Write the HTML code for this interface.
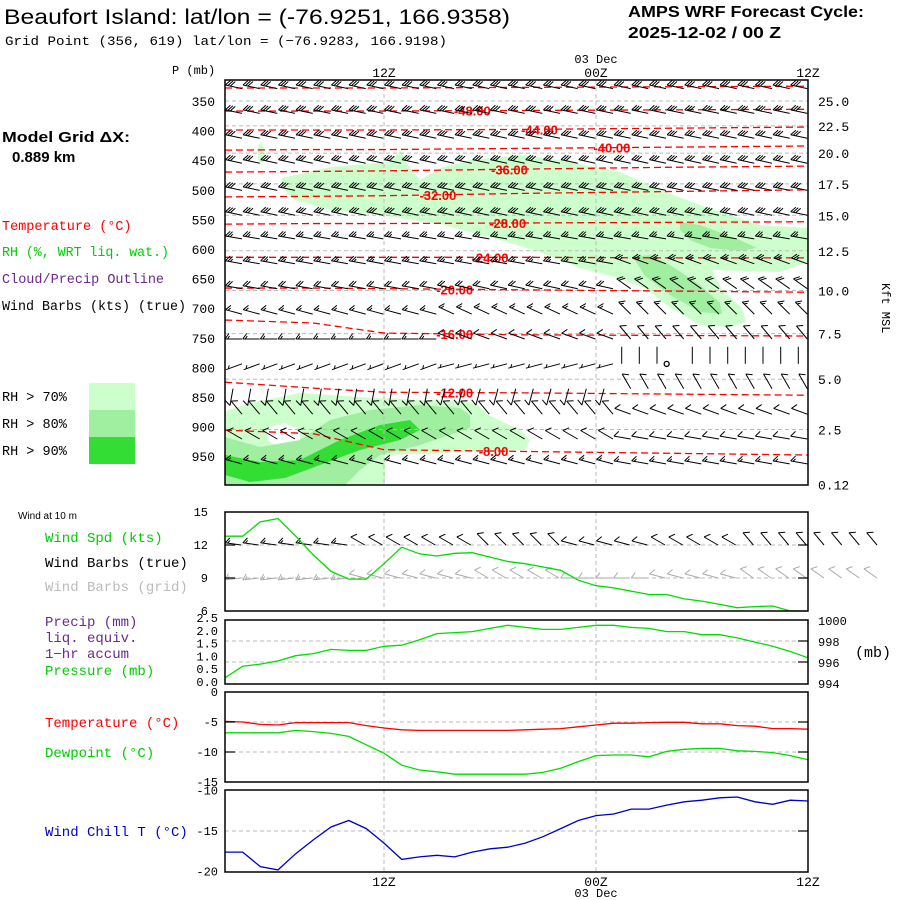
<!DOCTYPE html>
<html><head><meta charset="utf-8"><style>
html,body{margin:0;padding:0;background:#fff;}
svg{display:block;}
.m{font-family:"Liberation Mono",monospace;}
.s{font-family:"Liberation Sans",sans-serif;}
</style></head><body>
<svg id="chart" xmlns="http://www.w3.org/2000/svg" width="900" height="900" viewBox="0 0 900 900">
<rect width="900" height="900" fill="#fff"/>
<text class="s" x="4" y="24" font-size="21" textLength="506" lengthAdjust="spacingAndGlyphs">Beaufort Island:  lat/lon = (-76.9251, 166.9358)</text>
<text class="m" x="5" y="45" font-size="13" textLength="442" lengthAdjust="spacingAndGlyphs">Grid Point (356, 619) lat/lon = (−76.9283, 166.9198)</text>
<text class="s" x="628" y="17" font-size="16" font-weight="bold" textLength="236" lengthAdjust="spacingAndGlyphs">AMPS WRF Forecast Cycle:</text>
<text class="s" x="628" y="38" font-size="16" font-weight="bold" textLength="153" lengthAdjust="spacingAndGlyphs">2025-12-02 / 00  Z</text>
<text class="m" x="172" y="74" font-size="12">P (mb)</text>
<text class="s" x="2" y="142" font-size="15" font-weight="bold" textLength="128" lengthAdjust="spacingAndGlyphs">Model Grid ΔX:</text>
<text class="s" x="12" y="162" font-size="15" font-weight="bold">0.889 km</text>
<text class="m" x="2" y="230" font-size="13.5" fill="#ff0000">Temperature (°C)</text>
<text class="m" x="2" y="256" font-size="13.5" fill="#00cc00" textLength="167" lengthAdjust="spacingAndGlyphs">RH (%, WRT liq. wat.)</text>
<text class="m" x="2" y="283" font-size="13.5" fill="#6a2a8a">Cloud/Precip Outline</text>
<text class="m" x="2" y="310" font-size="13.5" fill="#000" textLength="184" lengthAdjust="spacingAndGlyphs">Wind Barbs (kts) (true)</text>
<g>
<rect x="89" y="383" width="46" height="27" fill="#ccffcc"/><rect x="89" y="410" width="46" height="27" fill="#a0eea0"/><rect x="89" y="437" width="46" height="27" fill="#33dd33"/>
<text class="m" x="2" y="401" font-size="13.5">RH &gt; 70%</text>
<text class="m" x="2" y="428" font-size="13.5">RH &gt; 80%</text>
<text class="m" x="2" y="455" font-size="13.5">RH &gt; 90%</text>
</g>
<text class="s" x="18" y="519" font-size="10">Wind at 10 m</text>
<text class="m" x="45" y="542" font-size="14" fill="#00cc00">Wind Spd (kts)</text>
<text class="m" x="45" y="567" font-size="14">Wind Barbs (true)</text>
<text class="m" x="45" y="591" font-size="14" fill="#bbbbbb">Wind Barbs (grid)</text>
<text class="m" x="45" y="626" font-size="14" fill="#6a2a8a">Precip (mm)</text>
<text class="m" x="45" y="642" font-size="14" fill="#6a2a8a">liq. equiv.</text>
<text class="m" x="45" y="658" font-size="14" fill="#6a2a8a">1−hr accum</text>
<text class="m" x="45" y="675" font-size="14" fill="#00cc00">Pressure (mb)</text>
<text class="m" x="45" y="727" font-size="14" fill="#ff0000">Temperature (°C)</text>
<text class="m" x="45" y="757" font-size="14" fill="#00cc00">Dewpoint (°C)</text>
<text class="m" x="45" y="836" font-size="14" fill="#0000cc">Wind Chill T (°C)</text>
<text class="m" x="855" y="657" font-size="15">(mb)</text>
<text class="m" font-size="12" transform="translate(882,283) rotate(90)">Kft MSL</text>
<g id="plot"></g>
</svg>
<script>
// ---- data ----
var hours = [3,4,5,6,7,8,9,10,11,12,13,14,15,16,17,18,19,20,21,22,23,24,25,26,27,28,29,30,31,32,33,34,35,36];
var windSpd = [12.8,12.8,14.1,14.4,12.8,11.1,9.6,8.9,8.9,10.3,11.8,11.2,11.0,11.25,11.3,10.9,10.5,10.3,10.0,9.7,8.8,8.3,8.1,7.8,7.5,7.5,7.1,6.9,6.6,6.3,6.4,6.45,6.0,6.0];
var pressure = [994.5,995.6,995.8,996.1,996.6,996.8,997.2,997.1,997.1,997.5,997.6,998.1,998.7,998.8,998.9,999.2,999.5,999.3,999.1,999.1,999.3,999.5,999.5,999.3,999.2,998.9,998.9,998.6,998.6,998.3,997.9,997.5,997.0,996.4];
var tempC = [-4.9,-5.0,-5.4,-5.5,-5.1,-5.1,-5.1,-5.1,-5.6,-6.0,-6.3,-6.4,-6.4,-6.4,-6.4,-6.4,-6.4,-6.3,-6.2,-6.1,-5.8,-5.5,-5.2,-5.2,-5.1,-5.05,-5.05,-5.3,-5.3,-5.6,-5.7,-6.1,-6.1,-6.2];
var dewC = [-6.8,-6.8,-6.8,-6.8,-6.4,-6.6,-6.9,-7.4,-8.8,-10.2,-12.2,-13.0,-13.3,-13.7,-13.7,-13.7,-13.7,-13.7,-13.4,-12.7,-11.6,-10.6,-10.5,-10.5,-10.8,-9.9,-9.55,-9.4,-9.4,-9.8,-9.9,-10.1,-10.6,-11.3];
var windChill = [-17.6,-17.6,-19.4,-19.8,-17.8,-16.1,-14.5,-13.7,-14.7,-16.5,-18.5,-18.2,-18.0,-18.2,-17.6,-17.2,-17.0,-16.5,-15.7,-14.7,-13.7,-13.1,-12.9,-12.3,-12.3,-11.8,-11.4,-11.2,-10.9,-10.8,-11.4,-11.7,-11.2,-11.3];
var pLevels = [350,400,450,500,550,600,650,700,750,800,850,900,950];
var kftLabels = ["25.0","22.5","20.0","17.5","15.0","12.5","10.0","7.5","5.0","2.5","0.12"];
var kftP = [350,392,438,490,543,603,670,743,820,905,998];
var isoTemps = [-52,-48,-44,-40,-36,-32,-28,-24,-20,-16,-12,-8];
var isoHours = [3,8,12,20,28,36];
var isoP = [[328,328,328,327,326,325],[367,367,367,366,365,364],[399,399,399,398,396,394],[433,432,432,430,428,426],[470,469,468,465,462,460],[512,511,510,506,503,500],[558,557,557,556,555,554],[614,614,614,614,615,615],[666,666,667,669,671,673],[720,725,742,745,746,747],[825,835,842,843,845,847],[906,912,939,942,945,948]];
var isoLabelHour = [null,17,20.8,24.9,19.1,15.05,19,18,16,16,16,18.2];
var barbRowP = [329,371,413,455,501,543,583,625,667,710,752,794,836,879,921,963];
var barbDirA = [282,282,282,282,282,282,280,280,280,285,270,250,190,320,300,285];
var barbDirB = [282,282,282,282,282,282,280,280,282,295,290,255,195,320,300,285];
var barbDirC = [282,282,282,282,282,282,280,290,305,315,320,0,330,290,280,280];
var barbSpdA = [30,30,30,30,30,30,25,25,20,15,15,5,10,10,10,15];
var barbSpdB = [30,30,30,30,30,30,25,25,20,15,10,5,10,10,10,15];
var barbSpdC = [30,30,30,30,30,30,25,25,20,15,10,0,10,10,10,15];
var dir10 = [278,278,278,278,278,278,278,300,300,300,300,300,300,300,315,315,315,315,315,285,285,285,285,285,300,300,300,300,300,320,320,320,320,320,320,320,320];
var spd10 = [15,15,15,15,15,15,15,10,10,10,10,10,10,10,10,10,10,10,10,10,10,10,10,10,10,10,10,10,10,10,10,10,10,10,10,10,10];

// ---- axes ----
var NS = "http://www.w3.org/2000/svg";
var X0 = 225, X1 = 808;
function xT(h){ return X0 + (h-3)*(X1-X0)/33; }
function yP(p){ return 101 + (p-350)*0.592; }
function yWind(v){ return 512 + (15-v)*11; }
function yPres(v){ return 620 + (1000-v)*10.5; }
function yTemp(v){ return 692 + (-v)*6; }
function yWC(v){ return 790.5 + (-10-v)*8.1; }
var plot = document.getElementById('plot');
function el(tag, attrs, parent){ var e=document.createElementNS(NS,tag); for(var k in attrs) e.setAttribute(k,attrs[k]); (parent||plot).appendChild(e); return e; }
function txt(s, x, y, size, anchor, fill, cls, parent){ var t=el('text',{x:x,y:y,'font-size':size,'text-anchor':anchor||'start',fill:fill||'#000','class':cls||'m'},parent); t.textContent=s; return t; }

// ---- top panel shading (RH contour fills) ----
var gShade = el('g',{});


var light='#ccffcc', med='#a0eea0', dark='#33dd33';
el('polygon',{points:"282,178 330,167 390,162 400,150 408,165 420,180 440,168 470,160 520,155 560,160 620,172 660,190 700,205 760,225 808,228 808,262 780,272 712,270 722,290 742,308 746,322 730,327 700,325 668,306 645,288 615,277 580,268 540,252 500,240 440,224 380,215 330,210 295,200 282,188",fill:light},gShade);
el('polygon',{points:"257,148 261,142 265,150 264,162 259,163",fill:light},gShade);
el('polygon',{points:"680,222 700,225 740,240 757,248 740,251 710,248 690,240 680,230",fill:med},gShade);
el('polygon',{points:"633,257 650,255 670,265 700,285 720,303 722,314 700,312 670,295 645,276",fill:med},gShade);
el('polygon',{points:"225,411 255,402 300,393 360,397 420,400 465,401 478,405 488,415 520,430 530,440 525,450 480,451 440,453 385,455 385,485 225,485",fill:light},gShade);
el('polygon',{points:"267,428 285,423 300,430 300,446 280,448 267,440",fill:'#fff'},gShade);
el('polygon',{points:"225,437 260,447 300,440 330,420 370,410 420,405 460,408 470,415 470,428 420,445 380,455 360,470 345,485 225,485",fill:med},gShade);
el('polygon',{points:"225,455 260,462 300,460 340,440 380,425 410,420 420,430 400,440 360,450 320,465 285,478 250,482 225,475",fill:dark},gShade);

// ---- gridlines ----
var gGrid = el('g',{stroke:'#bbbbbb','stroke-width':1,'stroke-dasharray':'4,3',fill:'none'});


kftP.slice(0,10).forEach(function(p){ el('line',{x1:X0,x2:X1,y1:yP(p),y2:yP(p)},gGrid); });
[12,24].forEach(function(h){
  [[80,485],[512,611],[620,684],[692,782],[790,872]].forEach(function(r){ el('line',{x1:xT(h),x2:xT(h),y1:r[0],y2:r[1]},gGrid); });
});
[12,9].forEach(function(v){ el('line',{x1:X0,x2:X1,y1:yWind(v),y2:yWind(v)},gGrid); });
[998,996].forEach(function(v){ el('line',{x1:X0,x2:X1,y1:yPres(v),y2:yPres(v)},gGrid); });
[-5,-10].forEach(function(v){ el('line',{x1:X0,x2:X1,y1:yTemp(v),y2:yTemp(v)},gGrid); });
el('line',{x1:X0,x2:X1,y1:yWC(-15),y2:yWC(-15)},gGrid);

// ---- isotherms ----
var gIso = el('g',{});


isoTemps.forEach(function(t,i){
  var pts = isoHours.map(function(h,j){ return xT(h)+','+yP(isoP[i][j]); }).join(' ');
  var pl = el('polyline',{points:pts,fill:'none',stroke:'#ff0000','stroke-width':1.3,'stroke-dasharray':'7,4'},gIso);
  
  if(isoLabelHour[i]!==null){
    var h=isoLabelHour[i], k=0; while(k<isoHours.length-2 && isoHours[k+1]<h) k++;
    var f=(h-isoHours[k])/(isoHours[k+1]-isoHours[k]);
    var p=isoP[i][k]+(isoP[i][k+1]-isoP[i][k])*f;
    var lb = txt(t.toFixed(2), xT(h), yP(p)+5, 13, 'middle', '#ff0000', 's', gIso);
    lb.setAttribute('font-weight','bold');
    
  }
});

// ---- wind barbs ----
function barb(g, x, y, dir, spd, color, L){
  L = L||16;
  var r = dir*Math.PI/180, ux=Math.sin(r), uy=-Math.cos(r);
  var px=-uy, py=ux;
  var ex=x+ux*L, ey=y+uy*L;
  var d='M'+x.toFixed(1)+','+y.toFixed(1)+'L'+ex.toFixed(1)+','+ey.toFixed(1);
  var s=spd, pos=0, FL=5.5, TL=4;
  while(s>=48){ var bx=ex-ux*pos, by=ey-uy*pos; d+='M'+bx.toFixed(1)+','+by.toFixed(1)+'L'+(bx+px*FL-ux*1).toFixed(1)+','+(by+py*FL-uy*1).toFixed(1)+'L'+(bx-ux*3).toFixed(1)+','+(by-uy*3).toFixed(1); pos+=4; s-=50; }
  while(s>=8){ var bx2=ex-ux*pos, by2=ey-uy*pos; d+='M'+bx2.toFixed(1)+','+by2.toFixed(1)+'L'+(bx2+px*FL-ux*TL).toFixed(1)+','+(by2+py*FL-uy*TL).toFixed(1); pos+=2.5; s-=10; }
  if(s>=3){ if(pos===0) pos=2.5; var bx3=ex-ux*pos, by3=ey-uy*pos; d+='M'+bx3.toFixed(1)+','+by3.toFixed(1)+'L'+(bx3+px*3-ux*2).toFixed(1)+','+(by3+py*3-uy*2).toFixed(1); }
  var b = el('path',{d:d,stroke:color,'stroke-width':1,fill:'none'},g);
  
  
}
var gBarbs = el('g',{});


barbRowP.forEach(function(p,i){
  for(var h=3; h<=35; h++){
    var dir = h<15 ? barbDirA[i] : (h<25 ? barbDirB[i] : barbDirC[i]);
    var spd = h<15 ? barbSpdA[i] : (h<25 ? barbSpdB[i] : barbSpdC[i]);
    if(i===11 && h===28){ var c=el('circle',{cx:xT(h),cy:yP(p),r:2.5,fill:'none',stroke:'#000','stroke-width':1.3},gBarbs);  continue; }
    var x = xT(h)+ (Math.sin(dir*Math.PI/180)<-0.5 ? 17 : 8);
    barb(gBarbs, x, yP(p), dir, spd, '#000', 17);
  }
});
var gB10 = el('g',{});


dir10.forEach(function(d,i){
  var h = 3+i;
  barb(gB10, xT(h)+16, yWind(12), d, spd10[i], '#000', 16);
  barb(gB10, xT(h)+16, yWind(9), (d-15+360)%360, spd10[i], '#aaaaaa', 16);
});

// ---- lines ----
function series(arr, yf, color, name){
  var pts = hours.map(function(h,i){ return xT(h).toFixed(1)+','+yf(arr[i]).toFixed(1); }).join(' ');
  var l = el('polyline',{points:pts,fill:'none',stroke:color,'stroke-width':1.3});
  
  
}
series(windSpd, yWind, '#00dd00', 'wind-speed-line');
series(pressure, yPres, '#00dd00', 'pressure-line');
series(tempC, yTemp, '#ff0000', 'temperature-line');
series(dewC, yTemp, '#00dd00', 'dewpoint-line');
series(windChill, yWC, '#0000cc', 'wind-chill-line');

// ---- frames & ticks ----
var gF = el('g',{fill:'none',stroke:'#000','stroke-width':1.5});


[[80,485],[512,611],[620,684],[692,782],[790,872]].forEach(function(r){ el('rect',{x:X0,y:r[0],width:X1-X0,height:r[1]-r[0]},gF); });
[[12,yWind],[9,yWind],[998,yPres],[996,yPres],[-5,yTemp],[-10,yTemp],[-15,yWC]].forEach(function(t){
  var y=t[1](t[0]); el('line',{x1:X1-10,x2:X1,y1:y,y2:y,'stroke-width':1.2},gF);
  if(t[1]===yTemp||t[1]===yWind) el('line',{x1:X0,x2:X0+10,y1:y,y2:y,'stroke-width':1.2},gF);
});

// ---- tick labels ----
var gT = el('g',{});


pLevels.forEach(function(p){ txt(String(p), 215, yP(p)+5, 13, 'end', '#000', 'm', gT); });
kftLabels.forEach(function(s,i){ txt(s, 818, yP(kftP[i])+5, 13, 'start', '#000', 'm', gT); });
[['12Z',12],['00Z',24],['12Z',36]].forEach(function(a){ txt(a[0], xT(a[1]), 77, 13, 'middle', '#000','m',gT); txt(a[0], xT(a[1]), 886, 13, 'middle','#000','m',gT); });
txt('03 Dec', xT(24), 63, 12, 'middle', '#000','m',gT);
txt('03 Dec', xT(24), 897, 12, 'middle', '#000','m',gT);
[15,12,9,6].forEach(function(v){ txt(String(v), 208, yWind(v)+4, 12, 'end','#000','m',gT); });
['2.5','2.0','1.5','1.0','0.5','0.0'].forEach(function(s,i){ txt(s, 218, 622+i*12.8, 12, 'end','#000','m',gT); });
txt('0', 218, 696, 12, 'end','#000','m',gT);
[1000,998,996,994].forEach(function(v){ txt(String(v), 818, yPres(v)+5, 12, 'start','#000','m',gT); });
[-5,-10,-15].forEach(function(v){ txt(String(v), 218, yTemp(v)+4, 12, 'end','#000','m',gT); });
[-10,-15,-20].forEach(function(v){ txt(String(v), 218, yWC(v)+4, 12, 'end','#000','m',gT); });
</script>
</body></html>
